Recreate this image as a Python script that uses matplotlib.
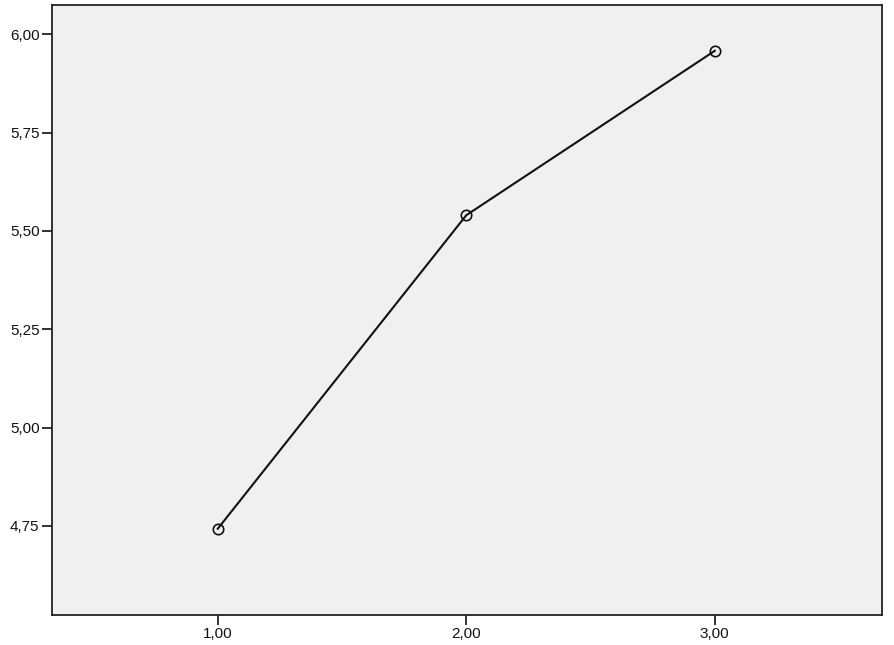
import numpy as np
import matplotlib
matplotlib.use("Agg")
import matplotlib.pyplot as plt

# data
groups = [1.0, 2.0, 3.0]
means = [4.743, 5.540, 5.958]
x_ticks = [1.0, 2.0, 3.0]
x_labels = ["1,00", "2,00", "3,00"]
y_ticks = [4.75, 5.00, 5.25, 5.50, 5.75, 6.00]
y_labels = ["4,75", "5,00", "5,25", "5,50", "5,75", "6,00"]

plt.rcParams['font.family'] = ['Liberation Sans', 'DejaVu Sans']

fig = plt.figure(figsize=(8.95, 6.45), dpi=100)
ax = fig.add_axes([52/895, 1-615/645, (882-52)/895, (615-5)/645])
ax.set_facecolor('#f0f0f0')

ax.plot(groups, means, color='#111111', linewidth=1.5, marker='o',
        markersize=7.5, markerfacecolor='none', markeredgecolor='#111111',
        markeredgewidth=1.2)

ax.set_xlim(0.333, 3.673)
ax.set_ylim(4.5237, 6.0745)
ax.set_xticks(x_ticks)
ax.set_xticklabels(x_labels)
ax.set_yticks(y_ticks)
ax.set_yticklabels(y_labels)
ax.tick_params(direction='out', length=7, width=1.2, labelsize=11, colors='#111111', pad=2)

for s in ax.spines.values():
    s.set_linewidth(1.3)
    s.set_color('#222222')

fig.savefig('out.png', dpi=100)
